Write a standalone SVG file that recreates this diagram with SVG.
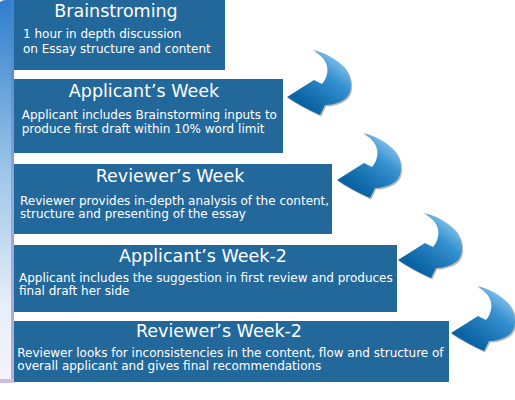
<svg xmlns="http://www.w3.org/2000/svg" width="515" height="400" viewBox="0 0 515 400">
<defs>
<style>
.box{fill:#23689b}
.title{font-family:"DejaVu Sans",Verdana,sans-serif;font-size:17.5px;fill:#ffffff;text-anchor:middle}
.body{font-family:"DejaVu Sans",Verdana,sans-serif;font-size:12px;fill:#ffffff}
.arrow{fill:url(#arrowGrad)}
.shadow{fill:#8a8a8a;opacity:0.6}
</style>
<linearGradient id="barGrad" x1="0" y1="0" x2="0" y2="1">
<stop offset="0" stop-color="#2f7dcb"/>
<stop offset="0.45" stop-color="#9cc6e8"/>
<stop offset="0.8" stop-color="#e6eef8"/>
<stop offset="1" stop-color="#f6f3fb"/>
</linearGradient>
<linearGradient id="stripGrad" x1="0" y1="0" x2="0" y2="1">
<stop offset="0" stop-color="#3d7fcf"/>
<stop offset="0.5" stop-color="#8fa6dc"/>
<stop offset="1" stop-color="#b4b0e0"/>
</linearGradient>
<linearGradient id="arrowGrad" x1="0.8" y1="0.05" x2="0.25" y2="0.8">
<stop offset="0" stop-color="#8fcaf0"/>
<stop offset="0.4" stop-color="#3590cf"/>
<stop offset="1" stop-color="#0a63a3"/>
</linearGradient>
<path id="arrowShape" d="M0,0 L27,-17 L35,-13 C41,-20 42,-29 38,-36 C35,-41 31,-44 26,-47 C37,-45 50,-38 58,-29 C66,-19 66,-4 58,2 C52,6 45,8 38,8 L33,18 Q15,10 0,0 Z"/>
</defs>
<rect width="515" height="400" fill="#ffffff"/>
<g id="sidebar">
<path d="M0,2 Q2,0 6,0 L11,0 L11,381 L0,381 Z" fill="url(#barGrad)"/>
<rect x="11" y="0" width="3" height="381" fill="url(#stripGrad)"/>
<path d="M0,379 L14,379 L14,383 L0,383 Z" fill="#cbbfe4"/>
</g>
<g id="connectors">
<g transform="translate(287,97)"><use href="#arrowShape" class="shadow" transform="translate(1.2,1.5)"/><use href="#arrowShape" class="arrow"/></g>
<g transform="translate(337,180)"><use href="#arrowShape" class="shadow" transform="translate(1.2,1.5)"/><use href="#arrowShape" class="arrow"/></g>
<g transform="translate(398,260)"><use href="#arrowShape" class="shadow" transform="translate(1.2,1.5)"/><use href="#arrowShape" class="arrow"/></g>
<g transform="translate(451,333)"><use href="#arrowShape" class="shadow" transform="translate(1.2,1.5)"/><use href="#arrowShape" class="arrow"/></g>
</g>
<g id="node-brainstorming">
<rect class="box" x="14" y="0" width="211" height="70"/>
<text class="title" x="116" y="17">Brainstroming</text>
<text class="body" x="23" y="38">1 hour in depth discussion</text>
<text class="body" x="23" y="52.7">on Essay structure and content</text>
</g>
<g id="node-applicant-week">
<rect class="box" x="14" y="79" width="269" height="74"/>
<text class="title" x="144" y="96.7">Applicant’s Week</text>
<text class="body" x="21.7" y="119.3">Applicant includes Brainstorming inputs to</text>
<text class="body" x="21.7" y="133.3">produce first draft within 10% word limit</text>
</g>
<g id="node-reviewer-week">
<rect class="box" x="14" y="164" width="318" height="70"/>
<text class="title" x="170" y="181.7">Reviewer’s Week</text>
<text class="body" x="20" y="205">Reviewer provides in-depth analysis of the content,</text>
<text class="body" x="20" y="218.3">structure and presenting of the essay</text>
</g>
<g id="node-applicant-week-2">
<rect class="box" x="14" y="245" width="383" height="67"/>
<text class="title" x="203" y="261.7">Applicant’s Week-2</text>
<text class="body" x="19" y="281.7">Applicant includes the suggestion in first review and produces</text>
<text class="body" x="19" y="295">final draft her side</text>
</g>
<g id="node-reviewer-week-2">
<rect class="box" x="14" y="321" width="435" height="61"/>
<text class="title" x="219" y="336.7">Reviewer’s Week-2</text>
<text class="body" x="17.3" y="356.7">Reviewer looks for inconsistencies in the content, flow and structure of</text>
<text class="body" x="17.3" y="370">overall applicant and gives final recommendations</text>
</g>
</svg>
